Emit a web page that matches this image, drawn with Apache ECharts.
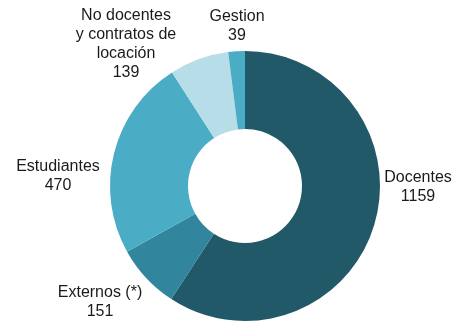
<!DOCTYPE html>
<html>
<head>
<meta charset="utf-8">
<script src="https://cdn.jsdelivr.net/npm/echarts@6/dist/echarts.min.js"></script>
<style>
  html, body { margin: 0; padding: 0; background: #fff; }
  #chart { width: 462px; height: 321px; }
</style>
</head>
<body>
<div id="chart"></div>
<script>
// Staff composition, clockwise from 12 o'clock
const categories = ['Docentes', 'Externos (*)', 'Estudiantes', 'No docentes\ny contratos de\nlocación', 'Gestion'];
const values = [1159, 151, 470, 139, 39];
const colors = ['#215968', '#31859C', '#4BACC6', '#B7DEE8', '#4BACC6'];
// Label block centres (px) for each slice
const labelCenters = [[418, 187], [100, 302], [58, 176], [126, 44], [237, 26]];

const chart = echarts.init(document.getElementById('chart'), null, { renderer: 'canvas' });

chart.setOption({
  animation: false,
  backgroundColor: '#ffffff',
  series: [{
    type: 'pie',
    center: [245, 186],
    radius: [57, 135],
    startAngle: 90,
    clockwise: true,
    avoidLabelOverlap: false,
    label: {
      show: true,
      position: 'outside',
      formatter: p => p.name + '\n' + p.value,
      fontFamily: 'Liberation Sans, Arial, sans-serif',
      fontSize: 16,
      lineHeight: 19,
      color: '#1a1a1a',
      align: 'center'
    },
    labelLine: { show: false },
    labelLayout: params => {
      const c = labelCenters[params.dataIndex];
      return { x: c[0], y: c[1], align: 'center', verticalAlign: 'middle' };
    },
    itemStyle: { borderWidth: 0 },
    emphasis: { disabled: true },
    data: categories.map((name, i) => ({
      name: name,
      value: values[i],
      itemStyle: { color: colors[i] }
    }))
  }]
});
</script>
</body>
</html>
